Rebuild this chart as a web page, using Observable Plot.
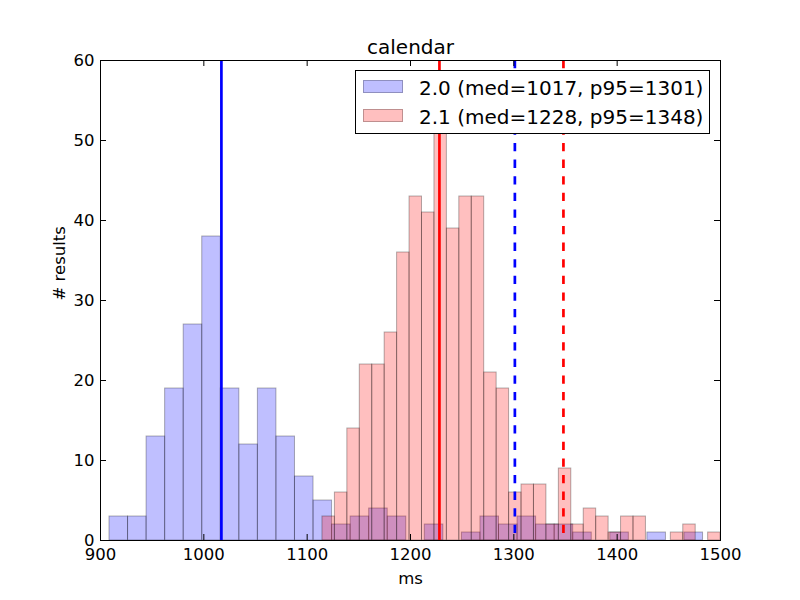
<!DOCTYPE html>
<html>
<head>
<meta charset="utf-8">
<script src="https://cdn.jsdelivr.net/npm/d3@7"></script>
<script src="https://cdn.jsdelivr.net/npm/@observablehq/plot@0.6"></script>
<style>
  body { margin: 0; background: #fff; }
  #chart { position: relative; width: 800px; height: 600px; font-family: "DejaVu Sans", sans-serif; }
  #legend { position: absolute; left: 355px; top: 70px; width: 355px; height: 64px; background: #fff;
            border: 1px solid #000; box-sizing: border-box; font-size: 20px; color: #000; }
  #legend .patch { position: absolute; left: 7px; width: 40px; height: 13px; box-sizing: border-box; }
  #legend .label { position: absolute; left: 63px; line-height: 20px; white-space: nowrap; }
</style>
</head>
<body>
<div id="chart"></div>
<script>
// ---- data ----
const title = "calendar";
const xLabel = "ms";
const yLabel = "# results";
const xTicks = [900, 1000, 1100, 1200, 1300, 1400, 1500];
const yTicks = [0, 10, 20, 30, 40, 50, 60];
const seriesNames = ["2.0", "2.1"];
const seriesColors = ["blue", "red"];

// 2.0 histogram: 32 bins starting at blueStart, width blueWidth (ms)
const blueStart = 908.7;
const blueWidth = 17.95;
const blueCounts = [3, 3, 13, 19, 27, 38, 19, 12, 19, 13, 8, 5, 2, 3, 4, 3,
                    0, 2, 0, 1, 3, 2, 3, 2, 2, 1, 0, 1, 0, 1, 0, 1];

// 2.1 histogram: 32 bins starting at redStart, width redWidth (ms)
const redStart = 1114.8;
const redWidth = 12.04;
const redCounts = [3, 6, 14, 22, 22, 26, 36, 43, 41, 55, 39, 43, 43, 21, 19, 6,
                   7, 7, 2, 9, 2, 4, 3, 1, 3, 3, 0, 0, 1, 2, 0, 1];

const medians = [1017, 1228];
const p95s = [1301, 1348];

// ---- build tables ----
function bins(start, width, counts) {
  return counts.map((c, i) => ({x1: start + i * width, x2: start + (i + 1) * width, count: c}))
               .filter(d => d.count > 0);
}
const blueBins = bins(blueStart, blueWidth, blueCounts);
const redBins = bins(redStart, redWidth, redCounts);
const medLines = medians.map((v, i) => ({v, color: seriesColors[i]}));
const p95Lines = p95s.map((v, i) => ({v, color: seriesColors[i]}));

const W = 800, H = 600;
const mL = 100, mR = 80, mT = 60, mB = 60;
const innerW = W - mL - mR, innerH = H - mT - mB;
const tickLen = 6;

const chart = Plot.plot({
  width: W,
  height: H,
  marginLeft: mL,
  marginRight: mR,
  marginTop: mT,
  marginBottom: mB,
  style: {fontFamily: "DejaVu Sans, sans-serif", fontSize: "16.5px", background: "white", color: "black"},
  x: {domain: [900, 1500]},
  y: {domain: [0, 60]},
  marks: [
    Plot.rect(blueBins, {x1: "x1", x2: "x2", y1: 0, y2: "count", fill: "blue", fillOpacity: 0.25,
                         stroke: "black", strokeOpacity: 0.3, strokeWidth: 1}),
    Plot.rect(redBins, {x1: "x1", x2: "x2", y1: 0, y2: "count", fill: "red", fillOpacity: 0.25,
                        stroke: "black", strokeOpacity: 0.3, strokeWidth: 1}),
    Plot.ruleX(medLines, {x: "v", stroke: "color", strokeWidth: 2.7}),
    Plot.ruleX(p95Lines, {x: "v", stroke: "color", strokeWidth: 2.7, strokeDasharray: "8.3,8.3"}),
    Plot.frame({stroke: "black", strokeWidth: 1}),
    // inward ticks on all four sides
    Plot.tickX(xTicks, {x: d => d, insetTop: innerH - tickLen, stroke: "black"}),
    Plot.tickX(xTicks, {x: d => d, insetBottom: innerH - tickLen, stroke: "black"}),
    Plot.tickY(yTicks, {y: d => d, insetRight: innerW - tickLen, stroke: "black"}),
    Plot.tickY(yTicks, {y: d => d, insetLeft: innerW - tickLen, stroke: "black"}),
    Plot.axisX({ticks: xTicks, tickSize: 0, tickPadding: 8, label: null, tickFormat: d => String(d)}),
    Plot.axisY({ticks: yTicks, tickSize: 0, tickPadding: 6, label: null, tickFormat: d => String(d)}),
    Plot.text([title], {frameAnchor: "top", text: d => d, lineAnchor: "bottom", dy: -7, fontSize: 20}),
    Plot.text([xLabel], {frameAnchor: "bottom", text: d => d, lineAnchor: "bottom", dy: 43}),
    Plot.text([yLabel], {frameAnchor: "left", text: d => d, lineAnchor: "bottom", rotate: -90, dx: -36})
  ]
});

const container = document.getElementById("chart");
container.appendChild(chart);

// legend (overlaid on the plot, opaque like matplotlib's)
const legend = document.createElement("div");
legend.id = "legend";
const patchFills = ["rgba(0,0,255,0.25)", "rgba(255,0,0,0.25)"];
seriesNames.forEach((name, i) => {
  const patch = document.createElement("div");
  patch.className = "patch";
  patch.style.top = (9 + i * 29) + "px";
  patch.style.background = patchFills[i];
  patch.style.border = "1px solid rgba(0,0,0,0.25)";
  legend.appendChild(patch);
  const label = document.createElement("div");
  label.className = "label";
  label.style.top = (7 + i * 29) + "px";
  label.textContent = `${name} (med=${medians[i]}, p95=${p95s[i]})`;
  legend.appendChild(label);
});
container.appendChild(legend);
</script>
</body>
</html>
